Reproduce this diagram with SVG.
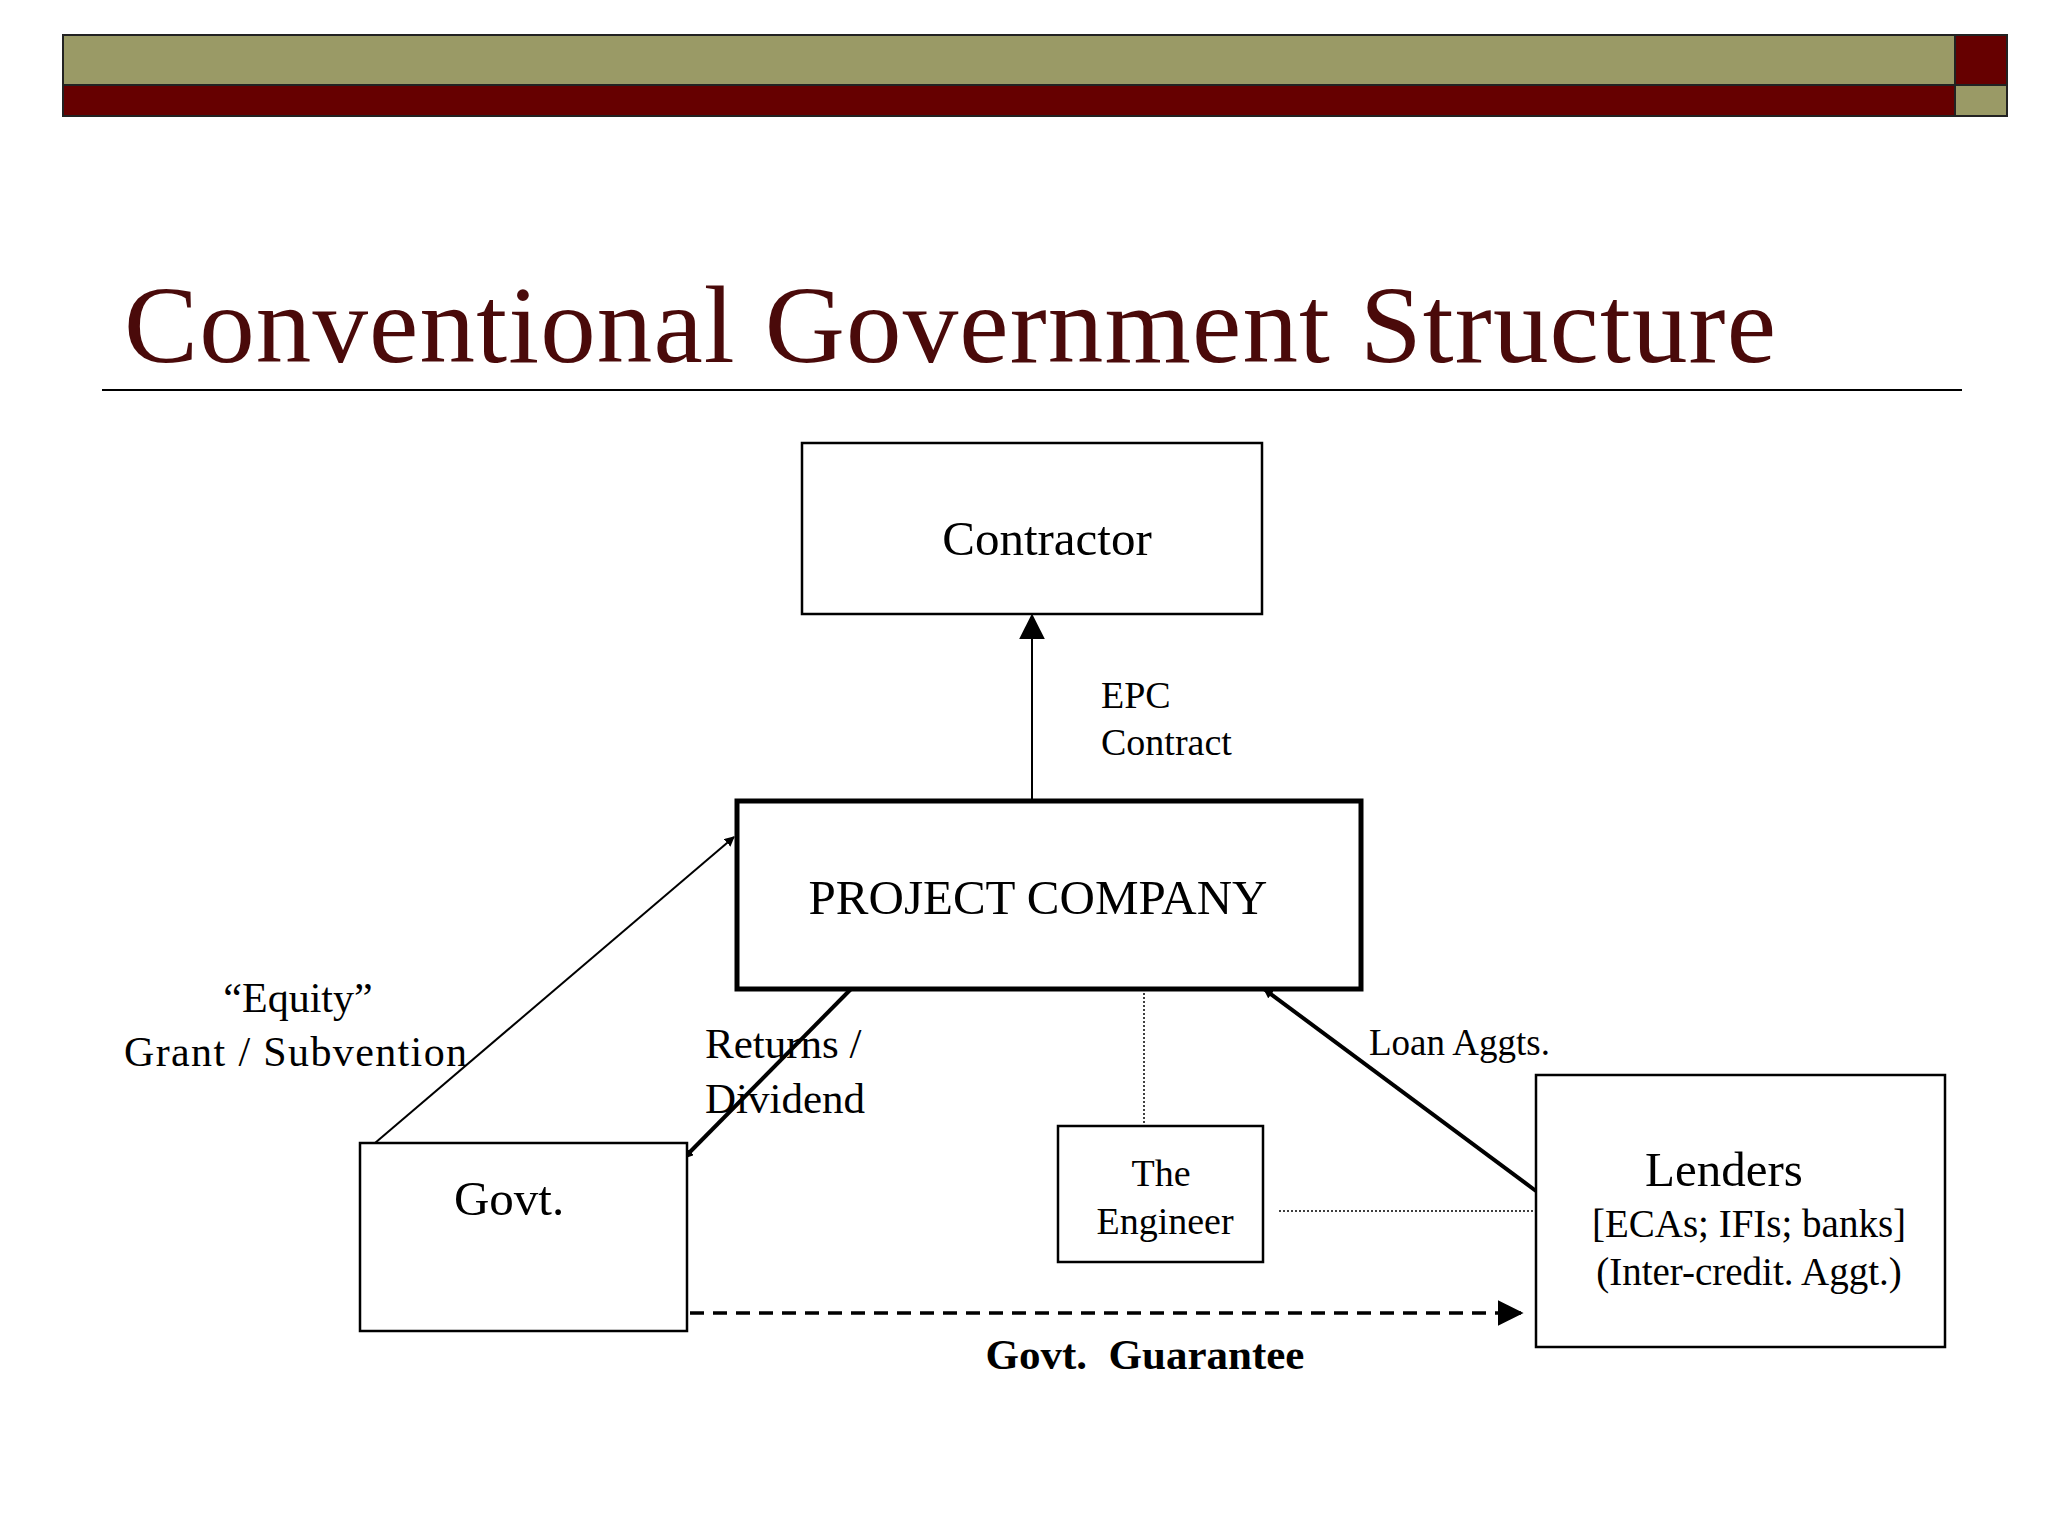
<svg xmlns="http://www.w3.org/2000/svg" width="2048" height="1536" viewBox="0 0 2048 1536">
<style>
.box{fill:#fff;stroke:#000;stroke-width:2.5}
.t{font-family:"Liberation Serif","Times New Roman",serif;fill:#000}
.ln{stroke:#000;fill:none}
</style>
<defs>
<marker id="ah" viewBox="0 0 10 10" refX="9" refY="5" markerWidth="10" markerHeight="10" markerUnits="userSpaceOnUse" orient="auto"><path d="M0,0L10,5L0,10z" fill="#000"/></marker>
<marker id="ahL" viewBox="0 0 10 10" refX="9" refY="5" markerWidth="26" markerHeight="26" markerUnits="userSpaceOnUse" orient="auto"><path d="M0,0L10,5L0,10z" fill="#000"/></marker>
</defs>
<rect width="2048" height="1536" fill="#fff"/>
<g id="header">
<rect x="63" y="35" width="1892" height="50" fill="#9a9a66" stroke="#222" stroke-width="2"/>
<rect x="63" y="85" width="1892" height="31" fill="#660000" stroke="#222" stroke-width="2"/>
<rect x="1955" y="35" width="52" height="50" fill="#660000" stroke="#222" stroke-width="2"/>
<rect x="1955" y="85" width="52" height="31" fill="#9a9a66" stroke="#222" stroke-width="2"/>
<text x="124" y="362" font-family="Liberation Serif,serif" font-size="111" fill="#4a0a0a" textLength="1652">Conventional Government Structure</text>
<line x1="102" y1="390" x2="1962" y2="390" stroke="#000" stroke-width="2"/>
</g>
<g id="connectors">
<line class="ln" x1="1032" y1="799" x2="1032" y2="616" stroke-width="2" marker-end="url(#ahL)"/>
<line class="ln" x1="375" y1="1143" x2="734" y2="837" stroke-width="2" marker-end="url(#ah)"/>
<line class="ln" x1="851" y1="989" x2="684" y2="1158" stroke-width="4" marker-end="url(#ah)"/>
<line class="ln" x1="1536" y1="1191" x2="1264" y2="989" stroke-width="4" marker-end="url(#ah)"/>
<line class="ln" x1="1144" y1="989" x2="1144" y2="1126" stroke-width="1.5" stroke-dasharray="2,2"/>
<line class="ln" x1="1279" y1="1211" x2="1536" y2="1211" stroke-width="1.5" stroke-dasharray="2,2"/>
<line class="ln" x1="690" y1="1313" x2="1521" y2="1313" stroke-width="3.5" stroke-dasharray="14,9" marker-end="url(#ahL)"/>
<text class="t" x="1101" y="708" font-size="38">EPC</text>
<text class="t" x="1101" y="755" font-size="38">Contract</text>
<text class="t" x="298" y="1012" font-size="42" text-anchor="middle">“Equity”</text>
<text class="t" x="124" y="1066" font-size="42" textLength="343">Grant / Subvention</text>
<text class="t" x="705" y="1058" font-size="43">Returns /</text>
<text class="t" x="705" y="1113" font-size="43">Dividend</text>
<text class="t" x="1369" y="1055" font-size="37">Loan Aggts.</text>
<text class="t" x="1145" y="1369" font-size="43" font-weight="bold" text-anchor="middle" xml:space="preserve">Govt.  Guarantee</text>
</g>
<g id="contractor">
<rect class="box" x="802" y="443" width="460" height="171"/>
<text class="t" x="1047" y="555" font-size="49" text-anchor="middle">Contractor</text>
</g>
<g id="project-company">
<rect class="box" x="737" y="801" width="624" height="188" style="stroke-width:5"/>
<text class="t" x="1038" y="914" font-size="49" text-anchor="middle">PROJECT COMPANY</text>
</g>
<g id="govt">
<rect class="box" x="360" y="1143" width="327" height="188"/>
<text class="t" x="509" y="1215" font-size="49" text-anchor="middle">Govt.</text>
</g>
<g id="engineer">
<rect class="box" x="1058" y="1126" width="205" height="136"/>
<text class="t" x="1161" y="1186" font-size="38" text-anchor="middle">The</text>
<text class="t" x="1165" y="1234" font-size="38" text-anchor="middle">Engineer</text>
</g>
<g id="lenders">
<rect class="box" x="1536" y="1075" width="409" height="272"/>
<text class="t" x="1724" y="1186" font-size="49" text-anchor="middle">Lenders</text>
<text class="t" x="1749" y="1237" font-size="39" text-anchor="middle">[ECAs; IFIs; banks]</text>
<text class="t" x="1749" y="1285" font-size="39" text-anchor="middle">(Inter-credit. Aggt.)</text>
</g>
</svg>
